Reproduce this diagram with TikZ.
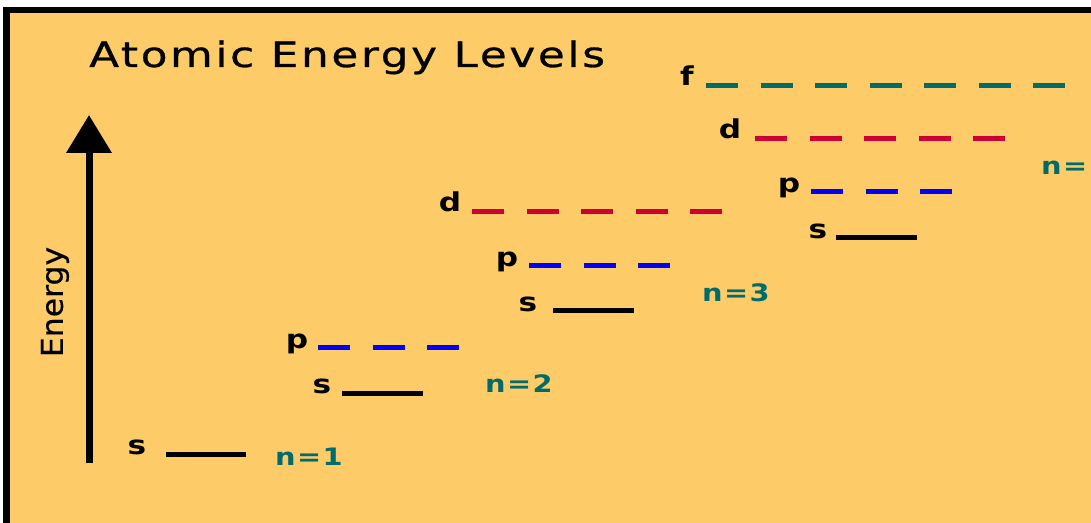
\documentclass[tikz,border=0pt]{standalone}
\usepackage{fontspec}
\setmainfont{DejaVu Sans}
\newfontfamily\titlefont[FakeStretch=1.25,LetterSpace=7.5,FakeBold=0.8]{DejaVu Sans}
\newfontfamily\axisfont[FakeStretch=1.05,FakeBold=0.4]{DejaVu Sans}
\newfontfamily\nfont[FakeStretch=1.2,LetterSpace=6]{DejaVu Sans Bold}
\newfontfamily\orbfont[FakeStretch=1.2]{DejaVu Sans Bold}
\usetikzlibrary{arrows.meta}
\definecolor{bgorange}{RGB}{253,203,103}
\definecolor{tealn}{RGB}{0,107,107}
\definecolor{redd}{RGB}{204,0,51}
\definecolor{bluep}{RGB}{0,0,255}
\tikzset{
  level/.style={line width=5bp, line cap=butt},
  slevel/.style={level, black},
  plevel/.style={level, bluep, dash pattern=on 32bp off 22.5bp},
  dlevel/.style={level, redd, dash pattern=on 32bp off 22.5bp},
  flevel/.style={level, tealn, dash pattern=on 32bp off 22.5bp},
  orb/.style={inner sep=0pt, anchor=mid, font=\fontsize{26bp}{26bp}\orbfont},
  shell/.style={inner sep=0pt, anchor=base west, text=tealn, font=\fontsize{24bp}{24bp}\nfont},
}
\begin{document}
\begin{tikzpicture}[x=1bp,y=-1bp]
% panel with a black edge along its top and left sides
\useasboundingbox (0,0) rectangle (1091,523);
\fill[white] (0,0) rectangle (1091,523);
\fill[bgorange] (10,13) rectangle (1091,523);
\fill[black] (3,7) rectangle (1091,13);
\fill[black] (3,7) rectangle (10,523);

% title
\node[inner sep=0pt, anchor=base west, font=\fontsize{35bp}{35bp}\titlefont] (title) at (89,67) {Atomic Energy Levels};

% energy axis
\coordinate (ebot) at (89,463);
\coordinate (etop) at (89,115);
\draw[line width=7bp, -{Triangle[width=44bp,length=38bp]}] (ebot) -- (etop);
\node[inner sep=0pt, rotate=90, font=\fontsize{30bp}{30bp}\axisfont] (energy) at (55,302) {Energy};

% n = 1
\coordinate (s1a) at (166,454); \coordinate (s1b) at (246,454);
\draw[slevel] (s1a) -- (s1b);
\node[orb] (s1) at (137,452) {s};
\node[shell] (n1) at (275,465) {n=1};

% n = 2
\coordinate (p2a) at (318,348); \coordinate (p2b) at (459,348);
\coordinate (s2a) at (342,393); \coordinate (s2b) at (423,393);
\draw[plevel] (p2a) -- (p2b);
\draw[slevel] (s2a) -- (s2b);
\node[orb] (p2) at (297,346) {p};
\node[orb] (s2) at (322,391) {s};
\node[shell] (n2) at (485,392) {n=2};

% n = 3
\coordinate (d3a) at (472,212); \coordinate (d3b) at (722,212);
\coordinate (p3a) at (529,266); \coordinate (p3b) at (670,266);
\coordinate (s3a) at (553,311); \coordinate (s3b) at (634,311);
\draw[dlevel] (d3a) -- (d3b);
\draw[plevel] (p3a) -- (p3b);
\draw[slevel] (s3a) -- (s3b);
\node[orb] (d3) at (450,209) {d};
\node[orb] (p3) at (507,264) {p};
\node[orb] (s3) at (528,309) {s};
\node[shell] (n3) at (702,302) {n=3};

% n = 4
\coordinate (f4a) at (706,86);  \coordinate (f4b) at (1065,86);
\coordinate (d4a) at (755,139); \coordinate (d4b) at (1005,139);
\coordinate (p4a) at (811,192); \coordinate (p4b) at (952,192);
\coordinate (s4a) at (836,238); \coordinate (s4b) at (917,238);
\draw[flevel] (f4a) -- (f4b);
\draw[dlevel] (d4a) -- (d4b);
\draw[plevel] (p4a) -- (p4b);
\draw[slevel] (s4a) -- (s4b);
\node[orb] (f4) at (687,83) {f};
\node[orb] (d4) at (730,136) {d};
\node[orb] (p4) at (789,190) {p};
\node[orb] (s4) at (818,236) {s};
\node[shell] (n4) at (1041,175) {n=};
\end{tikzpicture}
\end{document}
